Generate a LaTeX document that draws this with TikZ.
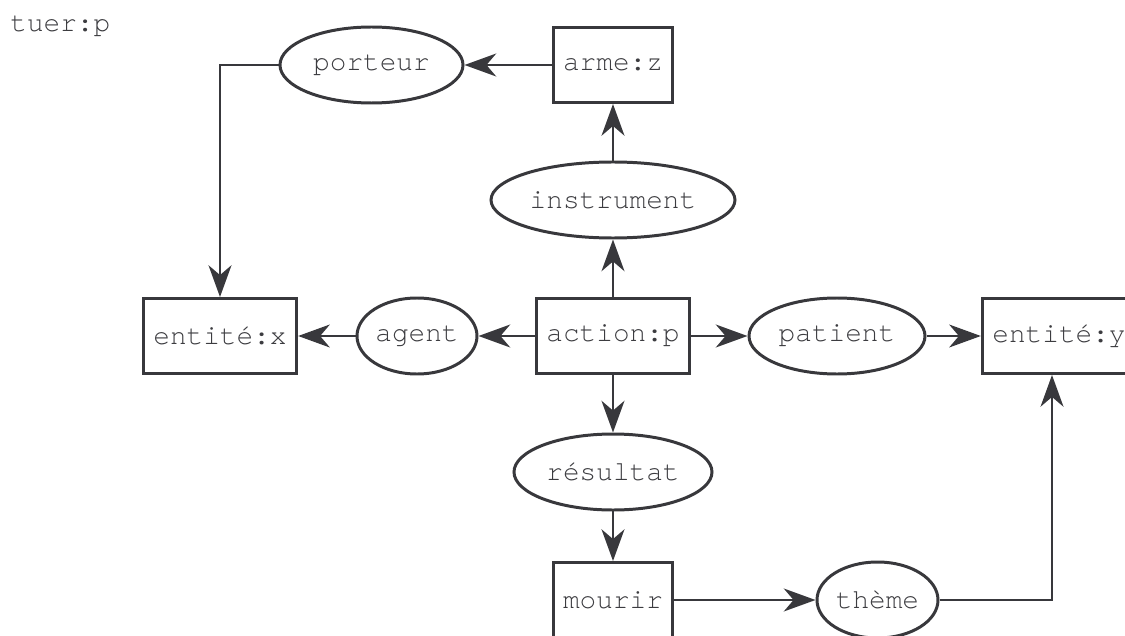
\documentclass[tikz,border=0pt]{standalone}
\usepackage{fontspec}
\setmonofont{TeX Gyre Cursor}
\usepackage{tikz}
\usetikzlibrary{positioning, arrows.meta, shapes.geometric}
\definecolor{ink}{HTML}{38383C}
\definecolor{label}{HTML}{3C3C40}

\begin{document}
\begin{tikzpicture}[
      every node/.style={font=\ttfamily\fontsize{15.8}{18}\selectfont, text=label},
      concept/.style={draw=ink, line width=1.7pt, rectangle,
        inner xsep=0.2cm, minimum height=1.5cm},
      relation/.style={draw=ink, line width=1.7pt, ellipse,
        inner sep=0pt, minimum height=1.52cm},
      link/.style={draw=ink, line width=1.6pt,
        -{Stealth[length=18pt, width=13pt, inset=5.5pt]}}]

    \useasboundingbox (-12.26,-5.98) rectangle (10.24,6.72);

    % concepts
    \node[concept] (act) at (0,0) {action:p};
    \node[concept] (ex) at (-7.86,0) {entité:x};
    \node[concept] (ey) at (8.92,0) {entité:y};
    \node[concept] (arme) at (0,5.42) {arme:z};
    \node[concept] (mourir) at (0,-5.28) {mourir};

    % relations
    \node[relation, minimum width=2.4cm] (agent) at (-3.92,0) {agent};
    \node[relation, minimum width=3.52cm] (patient) at (4.48,0) {patient};
    \node[relation, minimum width=4.88cm] (instr) at (0,2.72) {instrument};
    \node[relation, minimum width=3.96cm] (result) at (0,-2.72) {résultat};
    \node[relation, minimum width=3.66cm] (porteur) at (-4.83,5.42) {porteur};
    \node[relation, minimum width=2.42cm] (theme) at (5.29,-5.28) {thème};

    \node[anchor=base west, inner sep=0pt] (title) at (-12.06,6.08) {tuer:p};

    % arcs
    \draw[link] (act) -- (agent);
    \draw[link] (agent) -- (ex);
    \draw[link] (act) -- (patient);
    \draw[link] (patient) -- (ey);
    \draw[link] (act) -- (instr);
    \draw[link] (instr) -- (arme);
    \draw[link] (arme) -- (porteur);
    \draw[link] (porteur.west) -| (ex.north);
    \draw[link] (act) -- (result);
    \draw[link] (result) -- (mourir);
    \draw[link] (mourir) -- (theme);
    \draw[link] (theme.east) -| ([xshift=-0.14cm]ey.south);
  \end{tikzpicture}
\end{document}
